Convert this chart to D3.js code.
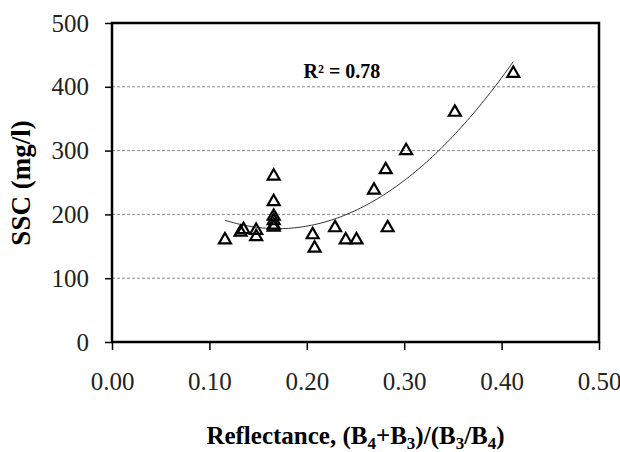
<!DOCTYPE html>
<html>
<head>
<meta charset="utf-8">
<script src="https://cdn.jsdelivr.net/npm/d3@7"></script>
<style>
  body { margin: 0; background: #fff; }
  text { font-family: "Liberation Serif", "Times New Roman", serif; }
</style>
</head>
<body>
<script>
// reflectance ratio vs SSC
const reflectance = [0.116, 0.132, 0.135, 0.148, 0.148, 0.166, 0.166, 0.166, 0.166, 0.166, 0.166,
                     0.206, 0.208, 0.229, 0.240, 0.251, 0.269, 0.281, 0.283, 0.302, 0.352, 0.412];
const ssc = [160, 172, 176, 175, 165, 260, 220, 197, 190, 183, 180,
             168, 147, 179, 160, 160, 238, 270, 179, 300, 360, 421];
const xTicks = [0, 0.1, 0.2, 0.3, 0.4, 0.5];
const yTicks = [0, 100, 200, 300, 400, 500];
const rSquared = "0.78";

let width = 620,
    height = 452;
let margin = { left: 112, right: 21, top: 23, bottom: 110 };

let svg = d3.select("body")
    .append("svg")
    .attr("width", width)
    .attr("height", height);

svg.append("rect")
    .attr("width", width)
    .attr("height", height)
    .attr("fill", "white");

let x = d3.scaleLinear().domain([0, 0.5]).range([margin.left, width - margin.right]);
let y = d3.scaleLinear().domain([0, 500]).range([height - margin.bottom, margin.top]);

// gridlines
svg.append("g")
    .selectAll("line")
    .data(yTicks.slice(1, -1))
    .join("line")
    .attr("x1", x(0))
    .attr("x2", x(0.5))
    .attr("y1", d => y(d))
    .attr("y2", d => y(d))
    .attr("stroke", "#8a8a8a")
    .attr("stroke-width", 1)
    .attr("stroke-dasharray", "3,2");

// axes
let xAxis = svg.append("g")
    .attr("transform", `translate(0,${y(0)})`)
    .call(d3.axisBottom(x).tickValues(xTicks).tickFormat(d3.format(".2f")).tickSize(8).tickPadding(22));
let yAxis = svg.append("g")
    .attr("transform", `translate(${x(0)},0)`)
    .call(d3.axisLeft(y).tickValues(yTicks).tickSize(7).tickPadding(16));

[xAxis, yAxis].forEach(a => {
    a.select(".domain").remove();
    a.selectAll("line").attr("stroke", "#000").attr("stroke-width", 1.5);
    a.selectAll("text")
        .attr("fill", "#222")
        .style("font-size", "25px")
        .style("font-family", "'Liberation Serif', serif");
});

// plot frame
svg.append("rect")
    .attr("x", x(0))
    .attr("y", y(500))
    .attr("width", x(0.5) - x(0))
    .attr("height", y(0) - y(500))
    .attr("fill", "none")
    .attr("stroke", "#000")
    .attr("stroke-width", 2.5);

// 2nd order polynomial trend line (least squares on the points)
function polyFit(xs, ys) {
    let s = [0, 0, 0, 0, 0], t = [0, 0, 0];
    xs.forEach((xv, i) => {
        for (let k = 0; k < 5; k++) s[k] += Math.pow(xv, k);
        for (let k = 0; k < 3; k++) t[k] += Math.pow(xv, k) * ys[i];
    });
    let m = [[s[0], s[1], s[2], t[0]], [s[1], s[2], s[3], t[1]], [s[2], s[3], s[4], t[2]]];
    for (let i = 0; i < 3; i++) {
        for (let j = i + 1; j < 3; j++) {
            let f = m[j][i] / m[i][i];
            for (let k = i; k < 4; k++) m[j][k] -= f * m[i][k];
        }
    }
    let c = [0, 0, 0];
    for (let i = 2; i >= 0; i--) {
        let v = m[i][3];
        for (let k = i + 1; k < 3; k++) v -= m[i][k] * c[k];
        c[i] = v / m[i][i];
    }
    return c;
}
let coef = polyFit(reflectance, ssc);
let xs = d3.range(0, 101).map(i => d3.min(reflectance) + i / 100 * (d3.max(reflectance) - d3.min(reflectance)));
svg.append("path")
    .datum(xs)
    .attr("fill", "none")
    .attr("stroke", "#333")
    .attr("stroke-width", 1)
    .attr("d", d3.line().x(d => x(d)).y(d => y(coef[0] + coef[1] * d + coef[2] * d * d)));

// points
svg.append("g")
    .selectAll("path")
    .data(reflectance)
    .join("path")
    .attr("transform", (d, i) => `translate(${x(d)},${y(ssc[i])})`)
    .attr("d", d3.symbol(d3.symbolTriangle, 62))
    .attr("fill", "none")
    .attr("stroke", "#000")
    .attr("stroke-width", 2.2);

// R squared label
svg.append("text")
    .attr("x", x(0.236))
    .attr("y", 78)
    .attr("text-anchor", "middle")
    .style("font-size", "20px")
    .style("font-weight", "bold")
    .text(`R² = ${rSquared}`);

// axis titles
svg.append("text")
    .attr("transform", `translate(30,183) rotate(-90)`)
    .attr("text-anchor", "middle")
    .style("font-size", "27px")
    .style("font-weight", "bold")
    .text("SSC (mg/l)");

let xt = svg.append("text")
    .attr("x", (x(0) + x(0.5)) / 2)
    .attr("y", 444)
    .attr("text-anchor", "middle")
    .style("font-size", "25px")
    .style("font-weight", "bold");
xt.append("tspan").text("Reflectance, (B");
xt.append("tspan").attr("dy", 5).style("font-size", "17px").text("4");
xt.append("tspan").attr("dy", -5).text("+B");
xt.append("tspan").attr("dy", 5).style("font-size", "17px").text("3");
xt.append("tspan").attr("dy", -5).text(")/(B");
xt.append("tspan").attr("dy", 5).style("font-size", "17px").text("3");
xt.append("tspan").attr("dy", -5).text("/B");
xt.append("tspan").attr("dy", 5).style("font-size", "17px").text("4");
xt.append("tspan").attr("dy", -5).text(")");
</script>
</body>
</html>
